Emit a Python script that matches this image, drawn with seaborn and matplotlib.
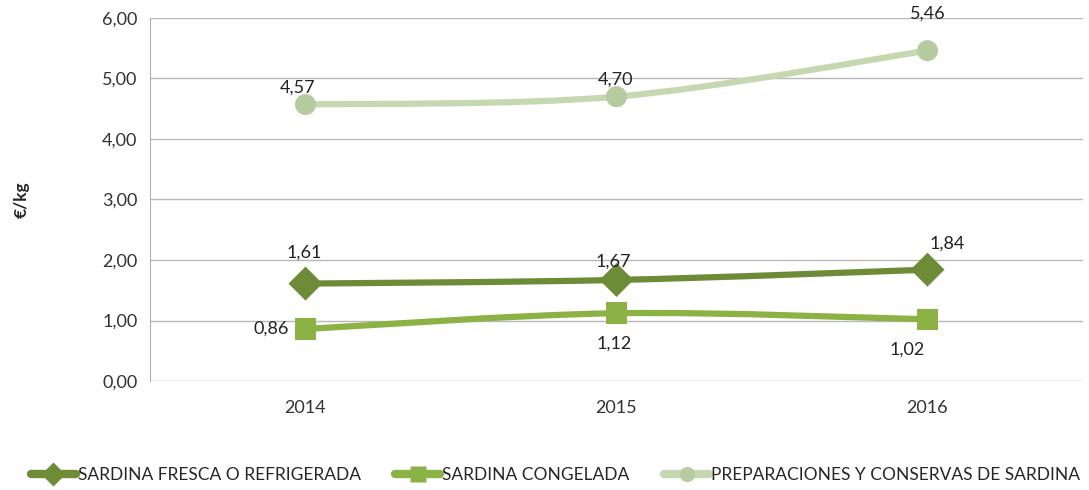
"""Precio medio de la sardina por presentación, 2014-2016 (€/kg)."""

import matplotlib

matplotlib.use("Agg")
import matplotlib.pyplot as plt
import numpy as np
import pandas as pd
import seaborn as sns
from matplotlib.lines import Line2D
from matplotlib.patches import PathPatch
from matplotlib.path import Path

years = ["2014", "2015", "2016"]
fresca = [1.61, 1.67, 1.84]
congelada = [0.86, 1.12, 1.02]
conservas = [4.57, 4.70, 5.46]

series_names = [
    "SARDINA FRESCA O REFRIGERADA",
    "SARDINA CONGELADA",
    "PREPARACIONES Y CONSERVAS DE SARDINA",
]
y_ticks = [0, 1, 2, 3, 4, 5, 6]

colors = ["#6e8c37", "#8cb246", "#c6d8b2"]
marker_colors = ["#6e8c37", "#8cb246", "#b7cba1"]
markers = ["D", "s", "o"]
marker_sizes = [300, 240, 230]
# where each data label goes, relative to the point (in points)
label_offsets = [
    [(-1, 22), (-2, 13), (14, 19)],
    [(-25, 0), (-2, -22), (-15, -22)],
    [(-6, 12), (-1, 12), (0, 27)],
]


def smooth_path(xs, ys):
    """Bezier path through the points, like Excel's smoothed line."""
    pts = np.column_stack([xs, ys]).astype(float)
    padded = np.vstack([pts[0], pts, pts[-1]])
    verts = [pts[0]]
    codes = [Path.MOVETO]
    for i in range(len(pts) - 1):
        p0, p1, p2, p3 = padded[i], padded[i + 1], padded[i + 2], padded[i + 3]
        verts += [p1 + (p2 - p0) / 6, p2 - (p3 - p1) / 6, p2]
        codes += [Path.CURVE4] * 3
    return Path(verts, codes)


sns.set_style("white")
plt.rcParams["font.family"] = ["Lato", "DejaVu Sans"]

df = pd.DataFrame(
    {
        "year": years * 3,
        "x": list(range(len(years))) * 3,
        "value": fresca + congelada + conservas,
        "serie": sum([[n] * len(years) for n in series_names], []),
    }
)

fig = plt.figure(figsize=(10.89, 4.90), dpi=100)
ax = fig.add_axes([150 / 1089, 109 / 490, 933 / 1089, 363 / 490])

for i, name in enumerate(series_names):
    sub = df[df["serie"] == name]
    ax.add_patch(
        PathPatch(
            smooth_path(sub["x"], sub["value"]),
            facecolor="none",
            edgecolor=colors[i],
            lw=4.5,
            capstyle="round",
            zorder=2,
        )
    )
    sns.scatterplot(
        data=sub,
        x="x",
        y="value",
        marker=markers[i],
        s=marker_sizes[i],
        color=marker_colors[i],
        edgecolor="none",
        ax=ax,
        zorder=3,
        legend=False,
    )
    for (xv, yv), off in zip(zip(sub["x"], sub["value"]), label_offsets[i]):
        ax.annotate(
            f"{yv:.2f}".replace(".", ","),
            (xv, yv),
            xytext=off,
            textcoords="offset points",
            ha="center",
            va="center",
            fontsize=13,
            color="#222222",
        )

ax.set_xlim(-0.5, len(years) - 0.5)
ax.set_ylim(0, 6)
ax.set_xticks(range(len(years)))
ax.set_xticklabels(years)
ax.set_yticks(y_ticks)
ax.set_yticklabels([f"{v:.2f}".replace(".", ",") for v in y_ticks])
ax.tick_params(axis="both", labelsize=13, colors="#333333", length=0, pad=14)
ax.tick_params(axis="y", pad=9)
ax.grid(axis="y", color="#b8b8b8", lw=1)
ax.set_axisbelow(True)
for side in ["top", "right", "bottom"]:
    ax.spines[side].set_visible(False)
ax.spines["left"].set_color("#b0b0b0")
ax.set_xlabel("")
ax.set_ylabel("€/kg", fontsize=12.5, fontweight="bold")
ax.yaxis.set_label_coords(-120 / 933, 0.5)

handles = [
    Line2D(
        [0], [0],
        color=colors[i],
        lw=6,
        marker=markers[i],
        markersize=12 if markers[i] == "D" else 11,
        markerfacecolor=marker_colors[i],
        markeredgecolor="none",
    )
    for i in range(len(series_names))
]
fig.legend(
    handles,
    series_names,
    loc="lower center",
    bbox_to_anchor=(0.51, -0.01),
    ncol=3,
    frameon=False,
    fontsize=12.5,
    handlelength=2.6,
    handletextpad=0.1,
    columnspacing=2.0,
    borderpad=0.2,
)

fig.savefig("out.png", dpi=100)
